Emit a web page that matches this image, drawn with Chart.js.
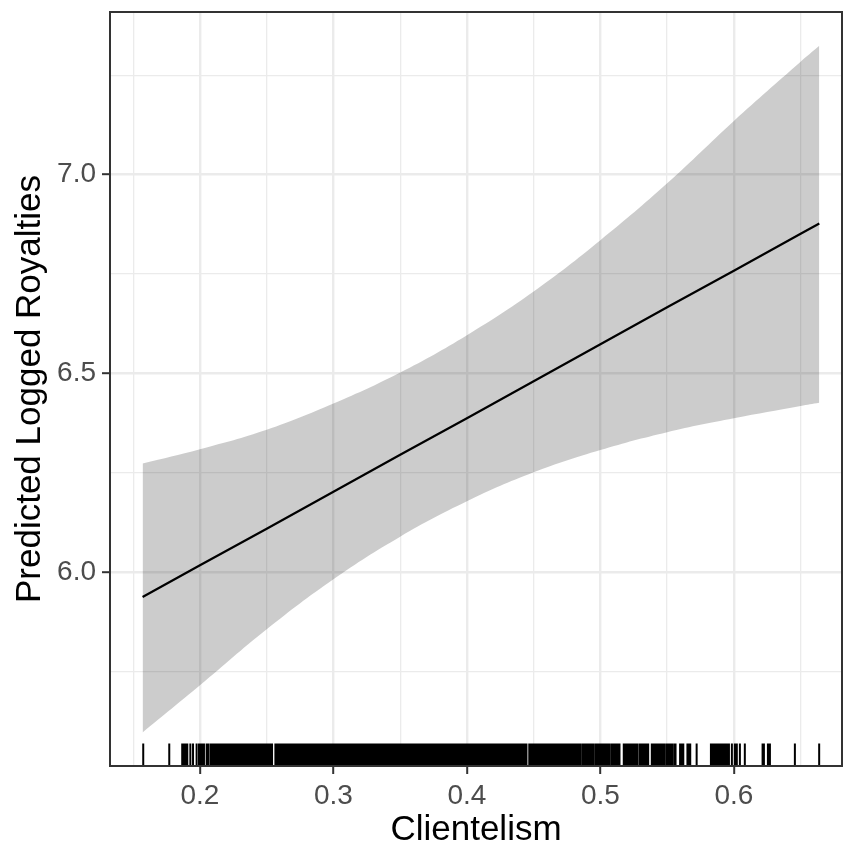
<!DOCTYPE html>
<html>
<head>
<meta charset="utf-8">
<script src="https://cdn.jsdelivr.net/npm/chart.js@4.4.1/dist/chart.umd.min.js"></script>
<style>
html,body{margin:0;padding:0;background:#fff;}
</style>
</head>
<body>
<canvas id="chart" width="843" height="845"></canvas>
<script>
// predicted values
const clientelism = [0.157,0.2,0.25,0.3,0.35,0.4,0.45,0.5,0.55,0.6,0.65,0.664];
const fitValues   = [5.937,6.017,6.109,6.202,6.295,6.387,6.480,6.573,6.666,6.758,6.851,6.877];
const upperValues = [6.273,6.309,6.358,6.424,6.502,6.596,6.706,6.835,6.978,7.135,7.284,7.324];
const lowerValues = [5.596,5.715,5.856,5.982,6.089,6.178,6.251,6.307,6.352,6.387,6.418,6.426];

const xTicks = [0.15,0.2,0.25,0.3,0.35,0.4,0.45,0.5,0.55,0.6,0.65];
const xMajor = [0.2,0.3,0.4,0.5,0.6];
const yTicks = [5.75,6.0,6.25,6.5,6.75,7.0,7.25];
const yMajor = [6.0,6.5,7.0];

// rug of observed clientelism values
const rugSparse = [0.1575,0.1770,0.1867,0.1878,0.1890,0.1905,0.1928,0.1948,0.1975,0.1993,
  0.2007,0.2019,0.2030,0.2050,0.2065,
  0.5721,0.5828,0.5843,0.5858,0.5873,0.5888,0.5903,0.5918,0.5933,0.5948,0.5963,0.5985,
  0.6007,0.6022,0.6045,0.6082,0.6215,0.6225,0.6255,0.6270,0.6457,0.6639];
const rugDense = [
  0.2085,0.2105,0.2125,0.2145,0.2165,0.2185,0.2205,0.2225,0.2245,0.2265,
  0.2285,0.2305,0.2325,0.2345,0.2365,0.2385,0.2405,0.2425,0.2445,0.2465,
  0.2485,0.2505,0.2525,0.2537,0.2568,0.2585,0.2605,0.2625,0.2645,0.2665,
  0.2685,0.2705,0.2725,0.2745,0.2765,0.2785,0.2805,0.2825,0.2845,0.2865,
  0.2885,0.2905,0.2925,0.2945,0.2965,0.2985,0.3005,0.3025,0.3045,0.3065,
  0.3085,0.3105,0.3125,0.3145,0.3165,0.3185,0.3205,0.3225,0.3245,0.3265,
  0.3285,0.3305,0.3325,0.3345,0.3365,0.3385,0.3405,0.3425,0.3445,0.3465,
  0.3485,0.3505,0.3525,0.3545,0.3565,0.3585,0.3605,0.3625,0.3645,0.3665,
  0.3685,0.3705,0.3725,0.3745,0.3765,0.3785,0.3805,0.3825,0.3845,0.3865,
  0.3885,0.3905,0.3925,0.3945,0.3965,0.3985,0.4005,0.4025,0.4045,0.4065,
  0.4085,0.4105,0.4125,0.4145,0.4165,0.4185,0.4205,0.4225,0.4245,0.4265,
  0.4285,0.4305,0.4325,0.4345,0.4365,0.4385,0.4405,0.4425,0.4443,0.4470,
  0.4485,0.4505,0.4525,0.4545,0.4565,0.4585,0.4605,0.4625,0.4645,0.4665,
  0.4685,0.4705,0.4725,0.4745,0.4765,0.4785,0.4805,0.4825,0.4845,
  0.4867,0.4887,0.4907,0.4927,0.4944,0.4966,0.4986,0.5006,0.5026,0.5046,0.5062,
  0.5084,0.5104,0.5124,0.5140,0.5178,0.5198,0.5218,0.5238,0.5258,0.5275,
  0.5298,0.5318,0.5338,0.5355,0.5388,0.5408,0.5428,0.5448,0.5468,0.5478,
  0.5500,0.5520,0.5538,0.5560,0.5600,0.5618,0.5655,0.5670];

const X_MIN = 0.1326, X_MAX = 0.681;
const Y_MIN = 5.512, Y_MAX = 7.409;
const FONT = "'Liberation Sans', Arial, Helvetica, sans-serif";

const near = (v, list) => list.some(m => Math.abs(m - v) < 1e-6);
const pts = vals => clientelism.map((x, i) => ({x, y: vals[i]}));

// rug along the bottom of the panel (3% of panel height), x from the scale
const rug = {
  id: 'rug',
  afterDatasetsDraw(chart) {
    const {ctx, chartArea: a, scales: {x}} = chart;
    const len = (a.bottom - a.top) * 0.03;
    ctx.save();
    ctx.strokeStyle = '#000';
    [[rugSparse, 2], [rugDense, 2.8]].forEach(([vals, w]) => {
      ctx.lineWidth = w;
      ctx.beginPath();
      vals.forEach(v => {
        const px = x.getPixelForValue(v);
        ctx.moveTo(px, a.bottom);
        ctx.lineTo(px, a.bottom - len);
      });
      ctx.stroke();
    });
    ctx.restore();
  }
};

const panelBorder = {
  id: 'panelBorder',
  afterDraw(chart) {
    const {ctx, chartArea: a} = chart;
    ctx.save();
    ctx.strokeStyle = '#333333';
    ctx.lineWidth = 2;
    ctx.strokeRect(a.left, a.top, a.right - a.left, a.bottom - a.top);
    ctx.restore();
  }
};

function axis(ticksList, major, min, max, title, fit) {
  return {
    type: 'linear', min, max,
    afterBuildTicks: s => { s.ticks = ticksList.map(v => ({value: v})); },
    afterFit: s => {
      fit(s);
      s.paddingTop = 0; s.paddingBottom = 0; s.paddingLeft = 0; s.paddingRight = 0;
    },
    border: {display: false},
    grid: {
      color: '#EBEBEB',
      lineWidth: c => (c.tick && near(c.tick.value, major)) ? 2.4 : 1.3,
      drawTicks: true,
      tickLength: 8,
      tickWidth: 2,
      tickColor: c => (c.tick && near(c.tick.value, major)) ? '#333333' : 'rgba(0,0,0,0)'
    },
    ticks: {
      autoSkip: false, maxRotation: 0,
      color: '#4D4D4D',
      font: {family: FONT, size: 28},
      callback: v => near(v, major) ? v.toFixed(1) : ''
    },
    title: {display: true, text: title, color: '#000000', font: {family: FONT, size: 35, lineHeight: 1}}
  };
}

const xAxis = axis(xTicks, xMajor, X_MIN, X_MAX, 'Clientelism', s => { s.height = 79; });
xAxis.ticks.padding = 5;
xAxis.title.padding = {top: 0, bottom: -3};
const yAxis = axis(yTicks, yMajor, Y_MIN, Y_MAX, 'Predicted Logged Royalties', s => { s.width = 110; });
yAxis.ticks.padding = 6;
yAxis.title.padding = {top: 13, bottom: 0};

new Chart(document.getElementById('chart'), {
  type: 'line',
  data: {
    datasets: [
      {data: pts(fitValues), borderColor: '#000', borderWidth: 2.2, pointRadius: 0, fill: false, order: 1},
      {data: pts(upperValues), borderWidth: 0, pointRadius: 0, backgroundColor: 'rgba(0,0,0,0.2)',
        fill: '+1', tension: 0.4, order: 2},
      {data: pts(lowerValues), borderWidth: 0, pointRadius: 0, fill: false, tension: 0.4, order: 3}
    ]
  },
  options: {
    responsive: false,
    animation: false,
    events: [],
    layout: {autoPadding: false, padding: {top: 12, right: 1, left: 0, bottom: 0}},
    plugins: {legend: {display: false}, tooltip: {enabled: false}},
    scales: {x: xAxis, y: yAxis}
  },
  plugins: [rug, panelBorder]
});
</script>
</body>
</html>
